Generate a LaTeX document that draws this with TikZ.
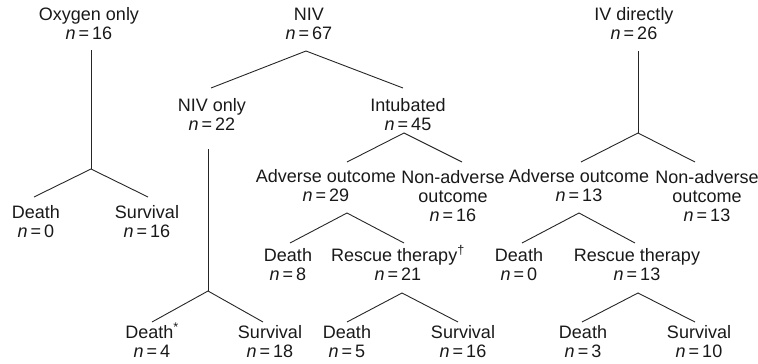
\documentclass[tikz,border=0pt]{standalone}
\usepackage{fontspec}
\setmainfont{Liberation Sans}
\newcommand{\nval}[1]{\textit{n}\,=\,#1}

\begin{document}
\begin{tikzpicture}[x=1pt,y=-1pt,
  lbl/.style={align=center, anchor=base, inner sep=0pt, text=black!90,
    font=\fontsize{18}{19}\selectfont},
  branch/.style={line width=0.9pt, draw=black!85}]

\useasboundingbox (0,0) rectangle (758,364);

% Top groups (anchored at the baseline of the last line)
\node[lbl] (oxy) at (89,39) {Oxygen only\\\nval{16}};
\node[lbl] (niv) at (309,39) {NIV\\\nval{67}};
\node[lbl] (ivd) at (634,39) {IV directly\\\nval{26}};

% Oxygen only
\node[lbl] (oxyDeath) at (36,237) {Death\\\nval{0}};
\node[lbl] (oxySurv) at (147,237) {Survival\\\nval{16}};

% NIV
\node[lbl] (nivOnly) at (212,130) {NIV only\\\nval{22}};
\node[lbl] (intub) at (408,130) {Intubated\\\nval{45}};
\node[lbl] (nivDeath) at (152,357) {Death\textsuperscript{*}\\\nval{4}};
\node[lbl] (nivSurv) at (270,357) {Survival\\\nval{18}};
\node[lbl] (intAdv) at (326,201) {Adverse outcome\\\nval{29}};
\node[lbl] (intNonAdv) at (453,221) {Non-adverse\\outcome\\\nval{16}};
\node[lbl] (intDeath) at (288,280) {Death\\\nval{8}};
\node[lbl] (intRescue) at (398,280) {Rescue therapy\textsuperscript{\dag}\\\nval{21}};
\node[lbl] (resDeath) at (347,357) {Death\\\nval{5}};
\node[lbl] (resSurv) at (463,357) {Survival\\\nval{16}};

% IV directly
\node[lbl] (ivAdv) at (579,201) {Adverse outcome\\\nval{13}};
\node[lbl] (ivNonAdv) at (707,221) {Non-adverse\\outcome\\\nval{13}};
\node[lbl] (ivDeath) at (519,280) {Death\\\nval{0}};
\node[lbl] (ivRescue) at (637,280) {Rescue therapy\\\nval{13}};
\node[lbl] (ivResDeath) at (583,357) {Death\\\nval{3}};
\node[lbl] (ivResSurv) at (699,357) {Survival\\\nval{10}};

% Draw branches
\coordinate (oxyTop) at (91,50);
\coordinate (oxySplit) at (91,169);
\coordinate (oxyL) at (34,197);
\coordinate (oxyR) at (148,197);
\draw[branch] (oxyTop) -- (oxySplit);
\draw[branch] (oxyL) -- (oxySplit) -- (oxyR);

\coordinate (nivSplit) at (306,51);
\coordinate (nivL) at (211,88);
\coordinate (nivR) at (403,88);
\draw[branch] (nivL) -- (nivSplit) -- (nivR);

\coordinate (onlyTop) at (208,149);
\coordinate (onlySplit) at (208,291);
\coordinate (onlyL) at (152,322);
\coordinate (onlyR) at (263,322);
\draw[branch] (onlyTop) -- (onlySplit);
\draw[branch] (onlyL) -- (onlySplit) -- (onlyR);

\coordinate (intSplit) at (404,133);
\coordinate (intL) at (347,162);
\coordinate (intR) at (462,162);
\draw[branch] (intL) -- (intSplit) -- (intR);

\coordinate (advSplit) at (347,213);
\coordinate (advL) at (290,243);
\coordinate (advR) at (404,243);
\draw[branch] (advL) -- (advSplit) -- (advR);

\coordinate (resSplit) at (402,293);
\coordinate (resL) at (347,322);
\coordinate (resR) at (458,322);
\draw[branch] (resL) -- (resSplit) -- (resR);

\coordinate (ivTop) at (638,51);
\coordinate (ivSplit) at (638,133);
\coordinate (ivL) at (581,162);
\coordinate (ivR) at (695,162);
\draw[branch] (ivTop) -- (ivSplit);
\draw[branch] (ivL) -- (ivSplit) -- (ivR);

\coordinate (ivAdvSplit) at (579,213);
\coordinate (ivAdvL) at (522,243);
\coordinate (ivAdvR) at (635,243);
\draw[branch] (ivAdvL) -- (ivAdvSplit) -- (ivAdvR);

\coordinate (ivResSplit) at (638,293);
\coordinate (ivResL) at (582,322);
\coordinate (ivResR) at (695,322);
\draw[branch] (ivResL) -- (ivResSplit) -- (ivResR);

\end{tikzpicture}
\end{document}
